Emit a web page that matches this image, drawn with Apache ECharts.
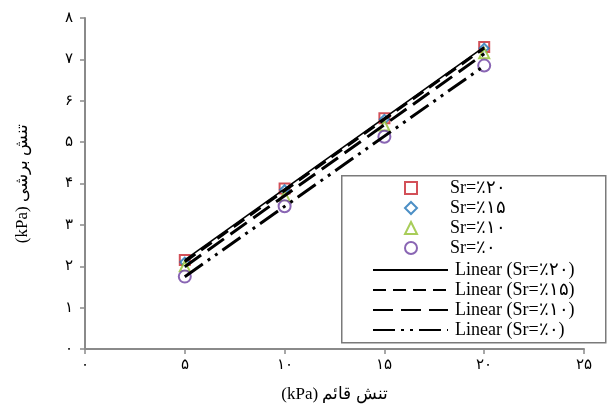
<!DOCTYPE html>
<html><head><meta charset="utf-8">
<script src="https://cdn.jsdelivr.net/npm/echarts@6/dist/echarts.min.js"></script>
<style>html,body{margin:0;padding:0;background:#fff}#c{width:611px;height:408px}</style>
</head><body><div id="c"></div>
<script>
var xValues = [5, 10, 15, 20];
var sr20 = [2.15, 3.88, 5.58, 7.30];
var sr15 = [2.10, 3.85, 5.55, 7.27];
var sr10 = [2.00, 3.70, 5.40, 7.15];
var sr0  = [1.75, 3.45, 5.13, 6.85];
var seriesNames = ['Sr=٪۲۰', 'Sr=٪۱۵', 'Sr=٪۱۰', 'Sr=٪۰'];
var lineNames = ['Linear (Sr=٪۲۰)', 'Linear (Sr=٪۱۵)', 'Linear (Sr=٪۱۰)', 'Linear (Sr=٪۰)'];
var xTickLabels = ['۰', '۵', '۱۰', '۱۵', '۲۰', '۲۵'];
var yTickLabels = ['۰', '۱', '۲', '۳', '۴', '۵', '۶', '۷', '۸'];
var xTitle = '(kPa) تنش قائم';
var yTitle = '(kPa) تنش برشی';

function pts(ys) { return xValues.map(function (x, i) { return [x, ys[i]]; }); }
function fit(ys) {
  var n = xValues.length, sx = 0, sy = 0, sxx = 0, sxy = 0;
  for (var i = 0; i < n; i++) { sx += xValues[i]; sy += ys[i]; sxx += xValues[i] * xValues[i]; sxy += xValues[i] * ys[i]; }
  var b = (n * sxy - sx * sy) / (n * sxx - sx * sx), a = (sy - b * sx) / n;
  var x0 = xValues[0], x1 = xValues[n - 1];
  return [[x0, a + b * x0], [x1, a + b * x1]];
}
var allY = [sr20, sr15, sr10, sr0];
var markers = [
  { symbol: 'rect', size: 10, color: '#c8242e' },
  { symbol: 'diamond', size: 9, color: '#1f73b7' },
  { symbol: 'triangle', size: 10, color: '#92c030' },
  { symbol: 'circle', size: 12, color: '#6b3fa0' }
];
var dashes = ['solid', [13, 7], [20, 8], [22, 6, 3, 6, 3, 6]];
var widths = [1.6, 3, 3, 3];

var series = [];
allY.forEach(function (ys, i) {
  series.push({
    name: seriesNames[i], type: 'scatter', data: pts(ys), z: 3,
    symbol: markers[i].symbol, symbolSize: markers[i].size,
    itemStyle: { color: '#fff', borderColor: markers[i].color, borderWidth: 2 }
  });
});
allY.forEach(function (ys, i) {
  series.push({
    name: lineNames[i], type: 'line', data: fit(ys), z: 4,
    symbol: 'none', showSymbol: false, silent: true,
    lineStyle: { color: '#000', width: widths[i], type: dashes[i] },
    itemStyle: { color: '#000' }
  });
});

var chart = echarts.init(document.getElementById('c'));
chart.setOption({
  animation: false,
  backgroundColor: '#fff',
  grid: { left: 85, right: 27, top: 18, bottom: 58 },
  xAxis: {
    type: 'value', min: 0, max: 25, interval: 5,
    axisLine: { lineStyle: { color: '#8a8a8a', width: 2 } },
    axisTick: { show: true, length: 5, lineStyle: { color: '#8a8a8a', width: 1.5 } },
    splitLine: { show: false },
    axisLabel: { margin: 9, color: '#000', fontSize: 15, fontFamily: 'DejaVu Serif',
      formatter: function (v) { return xTickLabels[Math.round(v / 5)]; } },
    name: xTitle, nameLocation: 'middle', nameGap: 37,
    nameTextStyle: { color: '#000', fontSize: 17, fontFamily: 'Liberation Serif' }
  },
  yAxis: {
    type: 'value', min: 0, max: 8, interval: 1,
    axisLine: { show: true, lineStyle: { color: '#8a8a8a', width: 2 } },
    axisTick: { show: true, length: 5, lineStyle: { color: '#8a8a8a', width: 1.5 } },
    splitLine: { show: false },
    axisLabel: { margin: 12, color: '#000', fontSize: 15, fontFamily: 'DejaVu Serif',
      formatter: function (v) { return yTickLabels[Math.round(v)]; } },
    name: yTitle, nameLocation: 'middle', nameGap: 54, nameRotate: 90,
    nameTextStyle: { color: '#000', fontSize: 17, fontFamily: 'Liberation Serif' }
  },
  legend: [
    {
      data: seriesNames, orient: 'vertical', left: 399, top: 174,
      itemWidth: 12, itemHeight: 12, itemGap: 2,
      textStyle: { color: '#000', fontSize: 18, fontFamily: 'Liberation Serif', padding: [0, 0, 0, 28] }
    },
    {
      data: lineNames, orient: 'vertical', left: 367, top: 256,
      itemWidth: 75, itemHeight: 12, itemGap: 2,
      itemStyle: { color: 'rgba(0,0,0,0)', borderColor: 'rgba(0,0,0,0)', borderWidth: 0 },
      textStyle: { color: '#000', fontSize: 18, fontFamily: 'Liberation Serif', padding: [0, 0, 0, 2] }
    }
  ],
  graphic: [{
    type: 'rect', left: 341, top: 175, z: 0,
    shape: { width: 264, height: 167 },
    style: { fill: '#fff', stroke: '#7a7a7a', lineWidth: 1.5 }
  }],
  series: series
});
</script>
</body></html>
